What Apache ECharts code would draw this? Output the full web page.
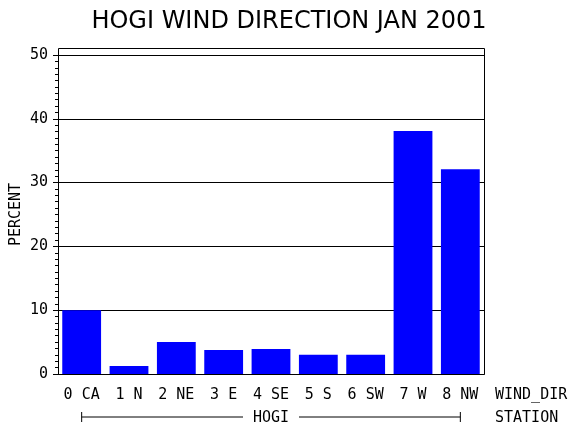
<!DOCTYPE html>
<html>
<head>
<meta charset="utf-8">
<script src="https://cdn.jsdelivr.net/npm/echarts@6/dist/echarts.min.js"></script>
<style>
  html, body { margin: 0; padding: 0; background: #fff; }
  #chart { width: 570px; height: 430px; }
</style>
</head>
<body>
<div id="chart"></div>
<script>
var directions = ['0 CA', '1 N', '2 NE', '3 E', '4 SE', '5 S', '6 SW', '7 W', '8 NW'];
var percent = [10.0, 1.25, 5.0, 3.75, 3.9, 3.0, 3.0, 38.1, 32.1];
var station = 'HOGI';
var yTicks = [0, 10, 20, 30, 40, 50];

var mono = '"DejaVu Sans Mono", "Liberation Mono", monospace';
var chart = echarts.init(document.getElementById('chart'));

var option = {
    animation: false,
    title: {
        text: 'HOGI WIND DIRECTION JAN 2001',
        left: 284,
        textAlign: 'center',
        top: 5,
        textStyle: {
            fontFamily: '"DejaVu Sans", sans-serif',
            fontSize: 24,
            fontWeight: 'normal',
            color: '#000'
        }
    },
    grid: {
        left: 58,
        right: 86,
        top: 55,
        bottom: 56,
        containLabel: false,
        outerBoundsMode: 'none'
    },
    xAxis: {
        type: 'category',
        data: directions,
        axisLine: { lineStyle: { color: '#000', width: 1 } },
        axisTick: { show: false },
        axisLabel: {
            margin: 14,
            color: '#000',
            fontFamily: mono,
            fontSize: 15,
            interval: 0
        }
    },
    yAxis: {
        type: 'value',
        min: 0,
        max: 50,
        interval: 10,
        name: 'PERCENT',
        nameLocation: 'middle',
        nameGap: 34,
        nameMoveOverlap: false,
        nameRotate: 90,
        nameTextStyle: { color: '#000', fontFamily: mono, fontSize: 15 },
        axisLine: { show: true, lineStyle: { color: '#000', width: 1 } },
        axisTick: { show: true, length: 5, lineStyle: { color: '#000' } },
        minorTick: { show: true, splitNumber: 10, length: 3, lineStyle: { color: '#000' } },
        splitLine: { show: true, lineStyle: { color: '#000', width: 1 } },
        axisLabel: {
            color: '#000',
            fontFamily: mono,
            fontSize: 15,
            margin: 10,
            formatter: function (v) {
                return yTicks.indexOf(v) >= 0 ? String(v) : '';
            }
        }
    },
    series: [{
        type: 'bar',
        data: percent,
        barCategoryGap: '18%',
        itemStyle: { color: '#0000ff' }
    }]
};
chart.setOption(option);

// frame, dimension names and the station bracket, placed from the grid/axes
var rect = chart.getModel().getComponent('grid').coordinateSystem.getRect();
var x0 = chart.convertToPixel({ xAxisIndex: 0 }, directions[0]);
var x1 = chart.convertToPixel({ xAxisIndex: 0 }, directions[directions.length - 1]);
var yb = rect.y + rect.height;
var labelY = yb + 21;
var brY = yb + 43;
var mid = (x0 + x1) / 2;
var gapHalf = 28;
var lineStyle = { stroke: '#000', lineWidth: 1 };
var txt = { fill: '#000', font: '15px ' + mono, textVerticalAlign: 'middle' };

chart.setOption({
    graphic: [
        { type: 'rect', shape: { x: rect.x + 0.5, y: rect.y - 7 + 0.5, width: rect.width, height: rect.height + 7 },
          style: { fill: 'none', stroke: '#000', lineWidth: 1 }, z: 10 },
        { type: 'text', x: rect.x + rect.width + 11, y: labelY, style: Object.assign({ text: 'WIND_DIR' }, txt) },
        { type: 'text', x: rect.x + rect.width + 11, y: brY + 1, style: Object.assign({ text: 'STATION' }, txt) },
        { type: 'line', shape: { x1: x0, y1: brY, x2: mid - gapHalf, y2: brY }, style: lineStyle },
        { type: 'line', shape: { x1: mid + gapHalf, y1: brY, x2: x1, y2: brY }, style: lineStyle },
        { type: 'line', shape: { x1: x0, y1: brY - 5, x2: x0, y2: brY + 5 }, style: lineStyle },
        { type: 'line', shape: { x1: x1, y1: brY - 5, x2: x1, y2: brY + 5 }, style: lineStyle },
        { type: 'text', x: mid, y: brY + 1, style: Object.assign({ text: station, textAlign: 'center' }, txt) }
    ]
});
</script>
</body>
</html>
